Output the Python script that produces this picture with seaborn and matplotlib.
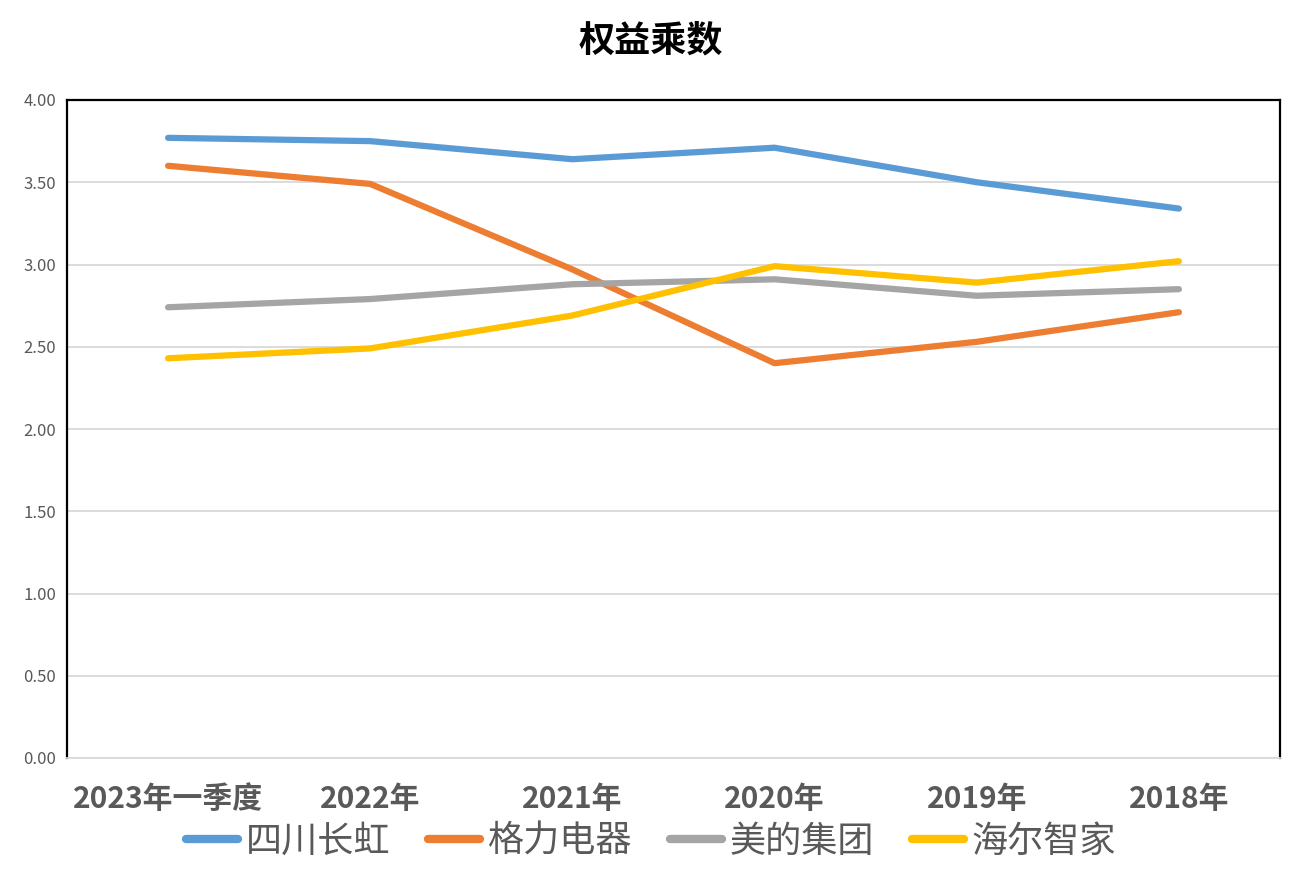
import numpy as np
import pandas as pd
import seaborn as sns
import matplotlib.pyplot as plt

# Data
periods = ["2023年一季度", "2022年", "2021年", "2020年", "2019年", "2018年"]
changhong = [3.77, 3.75, 3.64, 3.71, 3.50, 3.34]
gree = [3.60, 3.49, 2.97, 2.40, 2.53, 2.71]
midea = [2.74, 2.79, 2.88, 2.91, 2.81, 2.85]
haier = [2.43, 2.49, 2.69, 2.99, 2.89, 3.02]
companies = ["四川长虹", "格力电器", "美的集团", "海尔智家"]
colors = ["#5B9BD5", "#ED7D31", "#A5A5A5", "#FFC000"]

rows = []
for name, vals in zip(companies, [changhong, gree, midea, haier]):
    for p, v in zip(periods, vals):
        rows.append({"period": p, "value": v, "company": name})
df = pd.DataFrame(rows)

sns.set_theme(style="white")
plt.rcParams["font.family"] = ["Noto Sans CJK SC", "DejaVu Sans"]

fig = plt.figure(figsize=(13.02, 8.77), dpi=100)
ax = fig.add_axes([67 / 1302, 1 - 758 / 877, (1280 - 67) / 1302, (758 - 100) / 877])

sns.lineplot(data=df, x="period", y="value", hue="company", hue_order=companies,
             palette=colors, sort=False, linewidth=4.5, ax=ax, legend=True)
for line in ax.get_lines():
    line.set_solid_capstyle("round")

ax.set_xlim(-0.5, len(periods) - 0.5)
ax.set_ylim(0, 4)
ax.set_yticks(np.arange(0, 4.01, 0.5))
ax.set_yticklabels([f"{v:.2f}" for v in np.arange(0, 4.01, 0.5)])
ax.yaxis.grid(True, color="#D9D9D9", linewidth=1.3)
ax.xaxis.grid(False)
ax.set_xlabel("")
ax.set_ylabel("")
ax.tick_params(axis="y", labelsize=12, colors="#595959", length=0, pad=8)
ax.tick_params(axis="x", labelsize=21.5, colors="#595959", length=0, pad=19)
for lbl in ax.get_xticklabels():
    lbl.set_fontweight("bold")

for s in ["left", "top", "right"]:
    ax.spines[s].set_color("black")
    ax.spines[s].set_linewidth(1.6)
ax.spines["bottom"].set_color("#D9D9D9")
ax.spines["bottom"].set_linewidth(1.3)

fig.text(0.5, 1 - 41 / 877, "权益乘数", ha="center", va="center",
         fontsize=26, fontweight="bold", color="black")

handles, labels = ax.get_legend_handles_labels()
ax.get_legend().remove()
for h in handles:
    h.set_linewidth(6)
    h.set_solid_capstyle("round")
leg = fig.legend(handles, labels, loc="center", bbox_to_anchor=(0.5, 1 - 842 / 877),
                 ncol=4, frameon=False, fontsize=26, handlelength=1.45,
                 handletextpad=0.2, columnspacing=1.05)
for t in leg.get_texts():
    t.set_color("#595959")

fig.savefig("out.png", dpi=100)
